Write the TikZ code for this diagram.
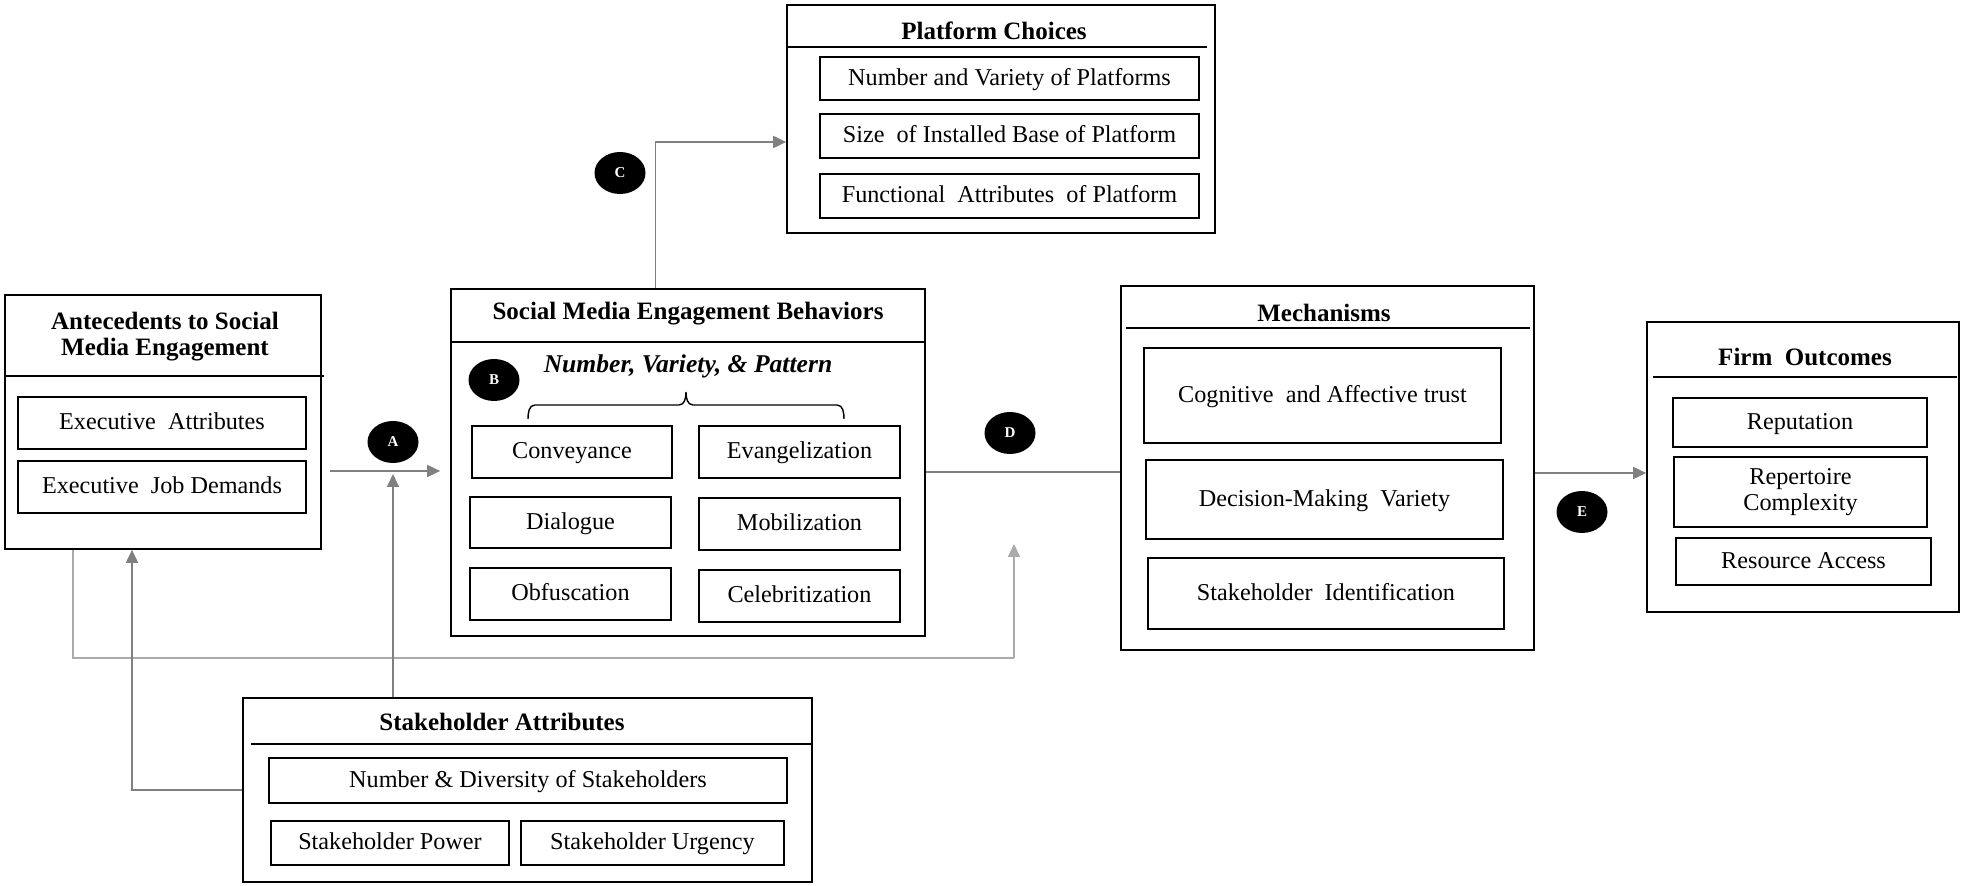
\documentclass[tikz,border=0pt]{standalone}
\usepackage{fontspec}
\setmainfont{Liberation Serif}
\usetikzlibrary{fit,shapes.geometric,arrows.meta}
\definecolor{conn}{RGB}{128,128,128}
\definecolor{fbc}{RGB}{170,170,170}
\begin{document}
\begin{tikzpicture}[x=0.5pt,y=-0.5pt,
  obox/.style={draw=black, line width=0.85pt, inner sep=0pt, rectangle},
  ibox/.style={draw=black, line width=0.85pt, inner sep=0pt, rectangle},
  lblm/.style={inner sep=0pt, align=center, font=\fontsize{12.1}{13}\selectfont},
  lbl/.style={lblm, text height=1.7ex, text depth=0.22ex},
  ttl/.style={inner sep=0pt, align=center, font=\bfseries\fontsize{12.5}{13}\selectfont},
  subttl/.style={inner sep=0pt, font=\bfseries\itshape\fontsize{12.8}{13}\selectfont},
  divl/.style={line width=0.85pt},
  badge/.style={ellipse, fill=black, text=white, inner sep=0pt, minimum width=25.5pt, minimum height=21pt, font=\bfseries\fontsize{7.5}{8}\selectfont},
  arr/.style={draw=conn, line width=0.9pt, -{Triangle[length=6.5pt,width=6pt]}},
  ln/.style={draw=conn, line width=0.9pt},
  fb/.style={draw=fbc, line width=0.9pt},
  bracel/.style={line width=0.7pt}
]
\useasboundingbox (0,0) rectangle (1961,886);

% Antecedents
\node[obox, fit={(5,295)(321,549)}] (ante) {};
\draw[divl] (ante.west |- 0,376) -- ([xshift=1pt]ante.east |- 0,376);
\node[ttl] (anteT) at (165,337) {Antecedents to Social\\Media Engagement};
\node[ibox, fit={(18,397)(306,449)}, label={[lbl]center:Executive\ \ Attributes}] (ea) {};
\node[ibox, fit={(18,461)(306,513)}, label={[lbl]center:Executive\ \ Job Demands}] (ejd) {};

% Social media engagement behaviors
\node[obox, fit={(451,289)(925,636)}] (smeb) {};
\draw[divl] (smeb.west |- 0,342) -- (smeb.east |- 0,342);
\node[ttl] (smebT) at (688,314) {Social Media Engagement Behaviors};
\node[subttl] (smebS) at (688,366) {Number, Variety, \& Pattern};
\draw[bracel] (528,419) to[out=90,in=180] (535,405) -- (679,405) to[out=0,in=-90] (686,392)
  to[out=-90,in=180] (693,405) -- (837,405) to[out=0,in=90] (844,419);
\node[ibox, fit={(472,426)(672,478)}, label={[lbl]center:Conveyance}] (conv) {};
\node[ibox, fit={(699,426)(900,478)}, label={[lbl]center:Evangelization}] (evan) {};
\node[ibox, fit={(470,497)(671,548)}, label={[lbl]center:Dialogue}] (dial) {};
\node[ibox, fit={(699,498)(900,550)}, label={[lbl]center:Mobilization}] (mob) {};
\node[ibox, fit={(470,568)(671,620)}, label={[lbl]center:Obfuscation}] (obf) {};
\node[ibox, fit={(699,570)(900,622)}, label={[lbl]center:Celebritization}] (celeb) {};

% Platform choices
\node[obox, fit={(787,5)(1215,233)}] (plat) {};
\draw[divl] (plat.west |- 0,47) -- (1207,47);
\node[ttl] (platT) at (994,31) {Platform Choices};
\node[ibox, fit={(820,57)(1199,100)}, label={[lbl]center:Number and Variety of Platforms}] (p1) {};
\node[ibox, fit={(820,114)(1199,158)}, label={[lbl]center:Size\ \ of Installed Base of Platform}] (p2) {};
\node[ibox, fit={(820,174)(1199,218)}, label={[lbl]center:Functional\ \ Attributes\ \ of Platform}] (p3) {};

% Mechanisms
\node[obox, fit={(1121,286)(1534,650)}] (mech) {};
\draw[divl] (1126,328) -- (1530,328);
\node[ttl] (mechT) at (1324,313) {Mechanisms};
\node[ibox, fit={(1144,348)(1501,443)}, label={[lbl]center:Cognitive\ \ and Affective trust}] (m1) {};
\node[ibox, fit={(1146,460)(1503,539)}, label={[lbl]center:Decision-Making\ \ Variety}] (m2) {};
\node[ibox, fit={(1148,558)(1504,629)}, label={[lbl]center:Stakeholder\ \ Identification}] (m3) {};

% Firm outcomes
\node[obox, fit={(1647,322)(1959,612)}] (firm) {};
\draw[divl] (1653,377) -- (1957,377);
\node[ttl] (firmT) at (1805,357) {Firm\ \ Outcomes};
\node[ibox, fit={(1673,398)(1927,447)}, label={[lbl]center:Reputation}] (f1) {};
\node[ibox, fit={(1674,457)(1927,527)}, label={[lblm]center:Repertoire\\Complexity}] (f2) {};
\node[ibox, fit={(1676,538)(1931,585)}, label={[lbl]center:Resource Access}] (f3) {};

% Stakeholder attributes
\node[obox, fit={(243,698)(812,882)}] (stake) {};
\draw[divl] (251,744) -- (stake.east |- 0,744);
\node[ttl] (stakeT) at (502,722) {Stakeholder Attributes};
\node[ibox, fit={(269,758)(787,803)}, label={[lbl]center:Number \& Diversity of Stakeholders}] (s1) {};
\node[ibox, fit={(271,821)(509,865)}, label={[lbl]center:Stakeholder Power}] (s2) {};
\node[ibox, fit={(521,821)(784,865)}, label={[lbl]center:Stakeholder Urgency}] (s3) {};

% Badges
\node[badge] (bA) at (393,442) {A};
\node[badge] (bB) at (494,380) {B};
\node[badge] (bC) at (620,173) {C};
\node[badge] (bD) at (1010,433) {D};
\node[badge] (bE) at (1582,512) {E};

% Connectors
\coordinate (aTip) at (393,474);
\coordinate (fbTip) at (1014,544);
\draw[fb] (ante.south -| 73,0) |- (1014,658);
\draw[arr, draw=fbc] (1014,658) -- (fbTip);
\draw[arr, shorten <=4pt, shorten >=5pt] (ante.east |- 0,471) -- (smeb.west |- 0,471);
\draw[arr] (stake.north -| aTip) -- (aTip);
\draw[arr] (stake.west |- 0,790) -| (ante.south -| 132,0);
\draw[arr] (smeb.north -| 655.5,0) |- (plat.west |- 0,142);
\draw[ln] (smeb.east |- 0,472) -- (mech.west |- 0,472);
\draw[arr] (mech.east |- 0,473) -- (firm.west |- 0,473);
\end{tikzpicture}
\end{document}
